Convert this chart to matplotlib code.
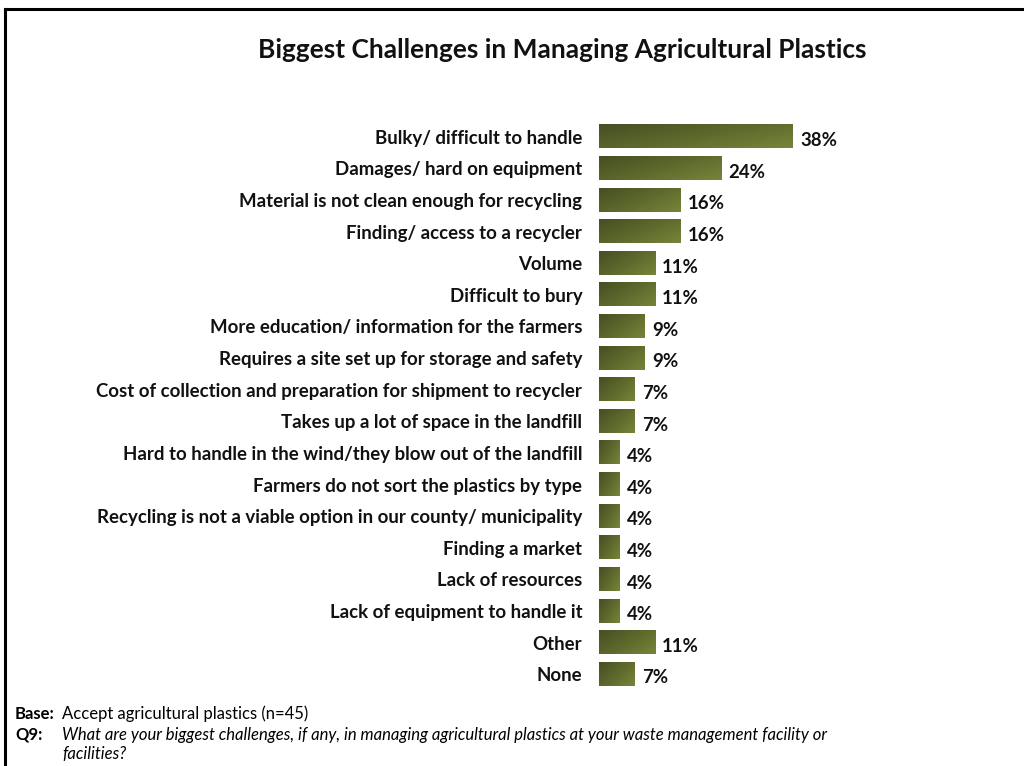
import numpy as np
import matplotlib.pyplot as plt
from matplotlib.colors import LinearSegmentedColormap

categories = [
    "Bulky/ difficult to handle",
    "Damages/ hard on equipment",
    "Material is not clean enough for recycling",
    "Finding/ access to a recycler",
    "Volume",
    "Difficult to bury",
    "More education/ information for the farmers",
    "Requires a site set up for storage and safety",
    "Cost of collection and preparation for shipment to recycler",
    "Takes up a lot of space in the landfill",
    "Hard to handle in the wind/they blow out of the landfill",
    "Farmers do not sort the plastics by type",
    "Recycling is not a viable option in our county/ municipality",
    "Finding a market",
    "Lack of resources",
    "Lack of equipment to handle it",
    "Other",
    "None",
]
values = [38, 24, 16, 16, 11, 11, 9, 9, 7, 7, 4, 4, 4, 4, 4, 4, 11, 7]

plt.rcParams['font.family'] = ['Lato', 'DejaVu Sans']

fig = plt.figure(figsize=(10.24, 7.66), dpi=100)
W, H = 1024, 766

# frame lines
fig.add_artist(plt.Line2D([5 / W, 1], [1 - 9 / H, 1 - 9 / H], color='black', lw=2.2))
fig.add_artist(plt.Line2D([5 / W, 5 / W], [0, 1 - 9 / H], color='black', lw=2.2))

ax_left, ax_right = 599, 900
ax_top, ax_bot = 121, 690
ax = fig.add_axes([ax_left / W, 1 - ax_bot / H, (ax_right - ax_left) / W, (ax_bot - ax_top) / H])

xmax = (ax_right - ax_left) / 5.1

cmap = LinearSegmentedColormap.from_list('olive', ['#464f23', '#5d692c', '#76853a'])
yy, xx = np.mgrid[0:1:40j, 0:1:200j]
grad = (xx * 0.6 + yy * 0.4)

bh = 0.73
for i, v in enumerate(values):
    ax.imshow(grad, cmap=cmap, extent=(0, v, i + bh / 2, i - bh / 2),
              aspect='auto', interpolation='bilinear', zorder=2)
    ax.text(v + 1.4, i + 0.12, f"{v}%", va='center', ha='left',
            fontsize=13.4, fontweight='bold', color='#111111')

ax.set_xlim(0, xmax)
ax.set_ylim(len(values) - 0.5, -0.5)
ax.set_yticks(range(len(categories)))
ax.set_yticklabels(categories, fontsize=13.4, fontweight='bold', color='#111111')
ax.tick_params(axis='y', length=0, pad=12)
ax.set_xticks([])
for s in ax.spines.values():
    s.set_visible(False)

fig.text(562 / W, 1 - 50 / H, "Biggest Challenges in Managing Agricultural Plastics",
         ha='center', va='center', fontsize=18.9, fontweight='bold', color='#111111')

fs = 12
fig.text(15 / W, 1 - 714 / H, "Base:", ha='left', va='center', fontsize=fs, fontweight='bold')
fig.text(62 / W, 1 - 714 / H, "Accept agricultural plastics (n=45)", ha='left', va='center', fontsize=fs)
fig.text(15 / W, 1 - 735 / H, "Q9:", ha='left', va='center', fontsize=fs, fontweight='bold')
fig.text(62 / W, 1 - 735 / H,
         "What are your biggest challenges, if any, in managing agricultural plastics at your waste management facility or",
         ha='left', va='center', fontsize=fs, style='italic')
fig.text(62 / W, 1 - 754 / H, "facilities?", ha='left', va='center', fontsize=fs, style='italic')

fig.savefig("out.png", dpi=100)
